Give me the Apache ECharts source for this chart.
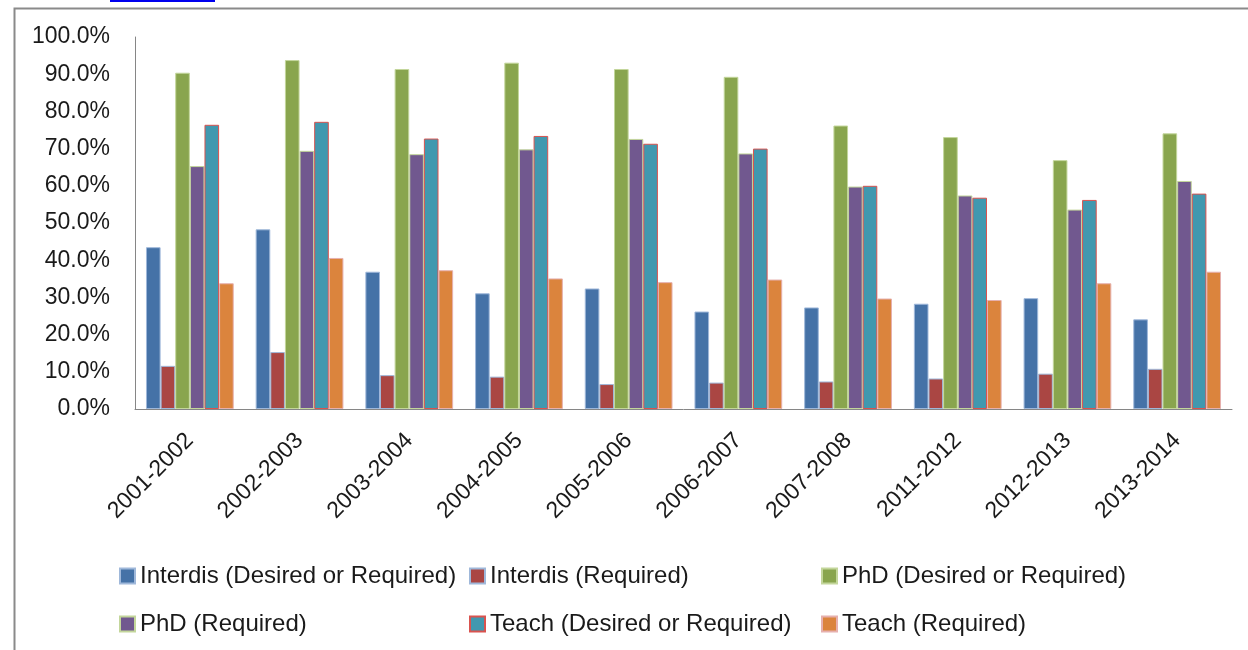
<!DOCTYPE html>
<html>
<head>
<meta charset="utf-8">
<script src="https://cdn.jsdelivr.net/npm/echarts@6/dist/echarts.min.js"></script>
<style>
  html, body { margin: 0; padding: 0; background: #fff; }
  #chart { width: 1248px; height: 650px; }
</style>
</head>
<body>
<div id="chart"></div>
<script>
const categories = ['2001-2002','2002-2003','2003-2004','2004-2005','2005-2006','2006-2007','2007-2008','2011-2012','2012-2013','2013-2014'];
const interdisDesired  = [43.5, 48.3, 36.9, 31.1, 32.4, 26.2, 27.3, 28.3, 29.8, 24.1];
const interdisRequired = [11.6, 15.3, 9.1, 8.7, 6.7, 7.1, 7.4, 8.2, 9.5, 10.8];
const phdDesired       = [90.4, 93.8, 91.4, 93.1, 91.4, 89.3, 76.2, 73.1, 66.9, 74.1];
const phdRequired      = [65.3, 69.4, 68.5, 69.8, 72.6, 68.7, 59.8, 57.4, 53.6, 61.3];
const teachDesired     = [76.4, 77.2, 72.7, 73.4, 71.3, 70.0, 60.0, 56.8, 56.2, 57.9];
const teachRequired    = [33.8, 40.6, 37.3, 35.1, 34.1, 34.8, 29.7, 29.3, 33.8, 36.9];
const seriesNames = ['Interdis (Desired or Required)','Interdis (Required)','PhD (Desired or Required)','PhD (Required)','Teach (Desired or Required)','Teach (Required)'];
const yTicks = [0,10,20,30,40,50,60,70,80,90,100];

const seriesData = [interdisDesired, interdisRequired, phdDesired, phdRequired, teachDesired, teachRequired];
const fills   = ['#4572A7','#AA4643','#89A54E','#71588F','#4198AF','#DB843D'];
const borders = ['#9FB8DA','#9FB8DA','#C3D69B','#C3D69B','#D9534F','#E6B0AE'];
const legendPos = [[119,564],[469,564],[821,564],[119,612],[469,612],[821,612]];

const FONT = '"Liberation Sans", Arial, sans-serif';
const TXT = '#1a1a1a';

const chart = echarts.init(document.getElementById('chart'), null, {renderer: 'canvas'});
const option = {
  animation: false,
  backgroundColor: '#fff',
  textStyle: { fontFamily: FONT },
  grid: { left: 135, right: 16, top: 37, bottom: 241, containLabel: false },
  xAxis: {
    type: 'category',
    data: categories,
    axisLine: { show: true, lineStyle: { color: '#868686', width: 1 } },
    axisTick: { show: false },
    axisLabel: { rotate: 45, margin: 28, fontSize: 23, color: TXT, fontFamily: FONT, interval: 0 },
    splitLine: { show: false }
  },
  yAxis: {
    type: 'value',
    min: yTicks[0], max: yTicks[yTicks.length - 1], interval: 10,
    axisLine: { show: true, lineStyle: { color: '#868686', width: 1 } },
    axisTick: { show: false },
    splitLine: { show: false },
    axisLabel: { margin: 25, fontSize: 23, color: TXT, fontFamily: FONT, formatter: v => v.toFixed(1) + '%' }
  },
  legend: seriesNames.map((n, i) => ({
    data: [n],
    left: legendPos[i][0], top: legendPos[i][1],
    padding: 0,
    icon: 'rect',
    itemWidth: 15, itemHeight: 15,
    textStyle: { fontSize: 24, color: TXT, fontFamily: FONT }
  })),
  series: seriesNames.map((n, i) => ({
    name: n,
    type: 'bar',
    data: seriesData[i],
    barGap: '0%',
    barCategoryGap: '20%',
    itemStyle: { color: fills[i], borderColor: borders[i], borderWidth: 1 }
  })),
  graphic: [
    { type: 'rect', left: 12, top: 6, shape: { x: 0, y: 0, width: 1300, height: 700 }, style: { fill: null, stroke: '#8a8a8a', lineWidth: 2 }, silent: true },
    { type: 'line', shape: { x1: 110, y1: 1, x2: 215, y2: 1 }, style: { stroke: '#0000EE', lineWidth: 2 }, silent: true }
  ]
};
chart.setOption(option);
</script>
</body>
</html>
